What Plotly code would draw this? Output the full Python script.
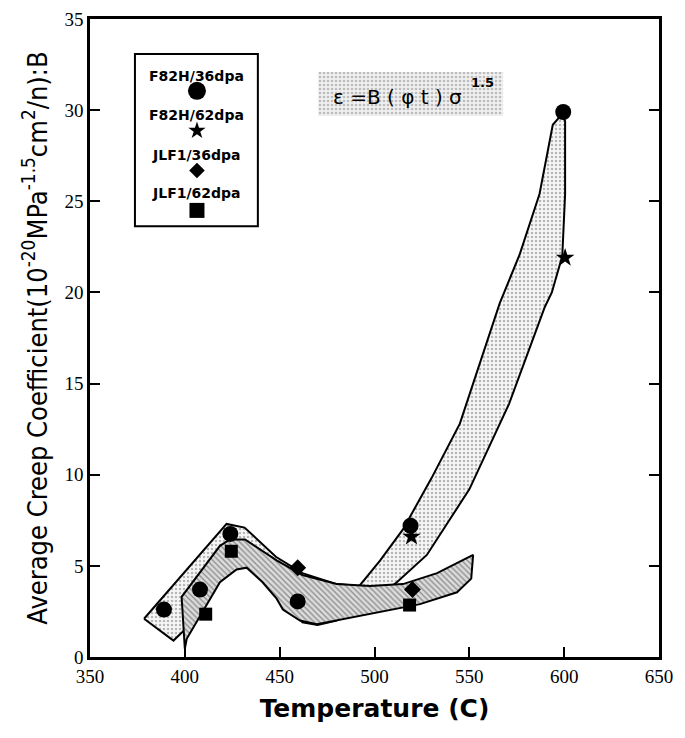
import plotly.graph_objects as go

# ---- data (Temperature in C, B in 1e-20 units) ----
f82h_36_T = [389, 408, 424, 459.5, 519, 599.5]
f82h_36_B = [2.6, 3.7, 6.75, 3.05, 7.2, 29.9]

f82h_62_T = [519.5, 600.5]
f82h_62_B = [6.6, 21.9]

jlf1_36_T = [459.5, 520]
jlf1_36_B = [4.9, 3.7]

jlf1_62_T = [411, 424.5, 518.5]
jlf1_62_B = [2.35, 5.8, 2.85]

# band outlines
f82h_band_T = [378.5, 422, 431.5, 448, 462, 480, 492, 503, 515, 530, 545, 566, 576.6, 587, 594, 599,
               600.5, 600.5, 599, 593.5, 589.8, 571, 550, 527.6, 511.8, 495, 480, 470, 462, 454, 445,
               433, 425, 400, 394, 378.5]
f82h_band_B = [2.1, 7.3, 7.1, 5.5, 4.6, 4.0, 3.9, 5.3, 7.0, 9.8, 12.8, 19.4, 22.1, 25.4, 29.2, 29.8,
               29.4, 25.4, 22.0, 20.0, 19.2, 13.9, 9.2, 5.6, 4.1, 2.8, 2.0, 1.75, 1.9, 3.0, 4.1,
               5.0, 6.0, 1.5, 0.9, 2.1]

jlf1_band_T = [400, 398.3, 418.5, 423.8, 431.7, 448.4, 462, 480, 497.6, 515, 533, 552,
               551, 543.5, 524, 497.6, 480, 469.6, 460.7, 451.7, 448.4, 441, 432.6, 427.3,
               418.5, 406, 401, 400]
jlf1_band_B = [0.45, 3.3, 6.1, 6.45, 6.45, 5.3, 4.5, 4.0, 3.9, 4.0, 4.6, 5.6,
               4.3, 3.55, 2.9, 2.35, 2.0, 1.8, 2.0, 2.6, 3.2, 4.1, 4.9, 4.8,
               4.1, 1.9, 1.0, 0.45]

x_ticks = [350, 400, 450, 500, 550, 600, 650]
y_ticks = [0, 5, 10, 15, 20, 25, 30, 35]

legend_labels = ["F82H/36dpa", "F82H/62dpa", "JLF1/36dpa", "JLF1/62dpa"]
legend_symbols = ["circle", "star", "diamond", "square"]

fig = go.Figure()

# bands
fig.add_trace(go.Scatter(
    x=f82h_band_T, y=f82h_band_B, mode="lines", fill="toself",
    line=dict(color="black", width=2),
    fillcolor="white",
    fillpattern=dict(shape=".", fgcolor="#777777", bgcolor="#f6f6f6", size=4, solidity=0.3),
    hoverinfo="skip", showlegend=False))
fig.add_trace(go.Scatter(
    x=jlf1_band_T, y=jlf1_band_B, mode="lines", fill="toself",
    line=dict(color="black", width=2),
    fillcolor="white",
    fillpattern=dict(shape="\\", fgcolor="#444444", bgcolor="#dcdcdc", size=4, solidity=0.35),
    hoverinfo="skip", showlegend=False))

# markers
fig.add_trace(go.Scatter(x=f82h_36_T, y=f82h_36_B, mode="markers", name="F82H/36dpa",
                         marker=dict(symbol="circle", size=16, color="black"), showlegend=False))
fig.add_trace(go.Scatter(x=f82h_62_T, y=f82h_62_B, mode="markers", name="F82H/62dpa",
                         marker=dict(symbol="star", size=14, color="black"), showlegend=False))
fig.add_trace(go.Scatter(x=jlf1_36_T, y=jlf1_36_B, mode="markers", name="JLF1/36dpa",
                         marker=dict(symbol="diamond", size=13, color="black"), showlegend=False))
fig.add_trace(go.Scatter(x=jlf1_62_T, y=jlf1_62_B, mode="markers", name="JLF1/62dpa",
                         marker=dict(symbol="square", size=13, color="black"), showlegend=False))

# overlay axes (0..1) for legend box and equation box
fig.add_trace(go.Scatter(
    x=[0.401, 0.726, 0.726, 0.401, 0.401], y=[0.848, 0.848, 0.917, 0.917, 0.848],
    xaxis="x2", yaxis="y2", mode="lines", fill="toself",
    line=dict(width=0, color="rgba(0,0,0,0)"),
    fillcolor="white",
    fillpattern=dict(shape=".", fgcolor="#888888", bgcolor="#f0f0f0", size=4, solidity=0.35),
    hoverinfo="skip", showlegend=False))

leg_u = 0.188
leg_marker_v = [0.8875, 0.825, 0.7625, 0.70]
leg_label_v = [0.911, 0.85, 0.7875, 0.727]
leg_sizes = [18, 13, 12, 15]
for sym, v, s in zip(legend_symbols, leg_marker_v, leg_sizes):
    fig.add_trace(go.Scatter(x=[leg_u], y=[v], xaxis="x2", yaxis="y2", mode="markers",
                             marker=dict(symbol=sym, size=s, color="black"),
                             hoverinfo="skip", showlegend=False))

annotations = []
for lab, v in zip(legend_labels, leg_label_v):
    annotations.append(dict(x=leg_u, y=v, xref="x2", yref="y2", text="<b>" + lab + "</b>",
                            showarrow=False, font=dict(family="DejaVu Sans", size=14, color="black")))
annotations.append(dict(x=0.54, y=0.878, xref="x2", yref="y2", text="ε =B ( φ t ) σ",
                        showarrow=False, font=dict(family="DejaVu Sans", size=20, color="black")))
annotations.append(dict(x=0.69, y=0.9, xref="x2", yref="y2", text="<b>1.5</b>",
                        showarrow=False, font=dict(family="DejaVu Sans", size=13, color="black")))

fig.update_layout(
    width=677, height=730,
    margin=dict(l=82, r=26, t=11, b=81, autoexpand=False),
    paper_bgcolor="white", plot_bgcolor="white",
    showlegend=False,
    annotations=annotations,
    shapes=[dict(type="rect", xref="x2", yref="y2", x0=0.079, x1=0.295, y0=0.675, y1=0.945,
                 line=dict(color="black", width=2), fillcolor="rgba(0,0,0,0)")],
    xaxis=dict(range=[350, 650], tickvals=x_ticks, ticks="inside", ticklen=10, tickwidth=2,
               tickcolor="black", showline=True, linecolor="black", linewidth=2.5, mirror=True,
               showgrid=False, zeroline=False, automargin=False, ticklabeloverflow="allow",
               tickfont=dict(family="Liberation Serif, Times New Roman", size=19, color="black"),
               title=dict(text="<b>Temperature (C)</b>", standoff=14,
                          font=dict(family="DejaVu Sans", size=25, color="black"))),
    yaxis=dict(range=[0, 35], tickvals=y_ticks, ticks="inside", ticklen=10, tickwidth=2,
               tickcolor="black", showline=True, linecolor="black", linewidth=2.5, mirror="ticks",
               showgrid=False, zeroline=False, automargin=False, ticklabeloverflow="allow",
               tickfont=dict(family="Liberation Serif, Times New Roman", size=19, color="black"),
               title=dict(text="Average Creep Coefficient(10<sup>-20</sup>MPa<sup>-1.5</sup>cm<sup>2</sup>/n):B",
                          standoff=10,
                          font=dict(family="DejaVu Sans Condensed, Liberation Sans", size=27, color="black"))),
    xaxis2=dict(overlaying="x", range=[0, 1], visible=False, fixedrange=True),
    yaxis2=dict(overlaying="y", range=[0, 1], visible=False, fixedrange=True),
)

fig.write_html("out.html")
